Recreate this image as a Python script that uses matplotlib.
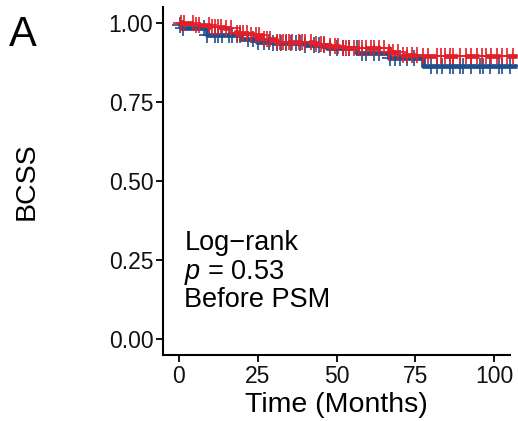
import numpy as np
import matplotlib

matplotlib.use("Agg")
import matplotlib.pyplot as plt

plt.rcParams["font.family"] = ["Liberation Sans", "DejaVu Sans"]
plt.rcParams["mathtext.fontset"] = "custom"
plt.rcParams["mathtext.rm"] = "Liberation Sans"
plt.rcParams["mathtext.it"] = "Liberation Sans:italic"

BLUE = "#1F4E8C"
RED = "#E41E26"

# step functions (time in months, survival)
blue_t = [0, 0.5, 1, 9, 19.6, 24.9, 30, 40, 47, 56.6, 66.5, 77.5, 107.3]
blue_s = [1.0, 0.994, 0.983, 0.962, 0.949, 0.941, 0.936, 0.932, 0.922, 0.904, 0.888, 0.864, 0.864]
red_t = [0, 4.9, 9.6, 14.3, 18, 22.8, 26.5, 30.7, 42.8, 47, 51.8, 66.5, 70.8, 77, 107.3]
red_s = [1.0, 0.993, 0.988, 0.983, 0.970, 0.962, 0.950, 0.940, 0.934, 0.926, 0.920, 0.907, 0.899, 0.896, 0.896]

# censoring times
blue_cens = [0.5, 1.2, 8, 9, 11.5, 12.5, 13.8, 16, 17, 18.5, 19.5, 22, 23.5, 25, 27, 28.5,
             30, 31, 32.5, 34, 35.5, 37, 38.5, 40, 43, 44.5, 46, 48, 50, 52, 54, 56.5, 58,
             59.5, 62, 63.5, 67, 68.5, 70, 72.5, 74.5, 80, 82, 83.5, 86, 87, 89, 90, 92.5,
             95.5, 96.5, 98.5, 101.5, 102.5, 105]
red_cens = [0.8, 1.5, 4.5, 5.5, 6.5, 9.5, 10.5, 11.5, 12.5, 13.5, 15, 16.5, 18.5, 19.5, 20.5,
            21.5, 23, 24.5, 25.5, 27, 28, 29, 31, 32, 33, 34, 35, 36, 38, 39, 40, 42, 43.5,
            45, 46, 48, 49.5, 50.5, 52, 53, 54, 55.5, 57, 58, 59.5, 61, 62, 63.5, 65, 66.5,
            68, 69.5, 71, 72.5, 74, 75.5, 77.5, 79, 82, 83, 84.5, 86, 87, 89, 91, 92.5, 94.5,
            96, 97.5, 99, 101, 102.5, 104, 106]

x_ticks = [0, 25, 50, 75, 100]
y_ticks = [0.00, 0.25, 0.50, 0.75, 1.00]


def surv_at(t, times, surv):
    idx = np.searchsorted(times, t, side="right") - 1
    return np.asarray(surv)[idx]


fig = plt.figure(figsize=(5.18, 4.21), dpi=100)
ax = fig.add_axes([0.3147, 0.1568, 0.6699, 0.826])

ax.step(blue_t, blue_s, where="post", color=BLUE, lw=3.4, clip_on=False, zorder=2,
        solid_capstyle="butt")
ax.plot(blue_cens, surv_at(blue_cens, blue_t, blue_s), "+", color=BLUE, ms=12, mew=1.2,
        clip_on=False, zorder=2)
ax.step(red_t, red_s, where="post", color=RED, lw=3.4, ls=(0, (3, 1.5)), clip_on=False,
        zorder=3)
ax.plot(red_cens, surv_at(red_cens, red_t, red_s), "+", color=RED, ms=12, mew=1.2,
        clip_on=False, zorder=3)

ax.set_xlim(-5, 105)
ax.set_ylim(-0.05, 1.05)
ax.set_xticks(x_ticks)
ax.set_xticklabels([str(v) for v in x_ticks])
ax.set_yticks(y_ticks)
ax.set_yticklabels(["{:.2f}".format(v) for v in y_ticks])
ax.tick_params(labelsize=16.5, length=5, width=1.3, color="black", labelcolor="#111111", pad=2)
for s in ("top", "right"):
    ax.spines[s].set_visible(False)
for s in ("left", "bottom"):
    ax.spines[s].set_linewidth(1.5)

ax.set_xlabel("Time (Months)", fontsize=20.5, labelpad=3)
ax.set_ylabel("BCSS", fontsize=20.5, labelpad=50)

ax.text(1.8, 0.304, "Log\u2212rank", fontsize=19.5, va="center", ha="left")
ax.text(1.8, 0.212, r"$p$ = 0.53", fontsize=19.5, va="center", ha="left")
ax.text(1.8, 0.123, "Before PSM", fontsize=19.5, va="center", ha="left")

fig.text(0.017, 0.918, "A", fontsize=30, ha="left", va="center")

fig.savefig("out.png", dpi=100)
